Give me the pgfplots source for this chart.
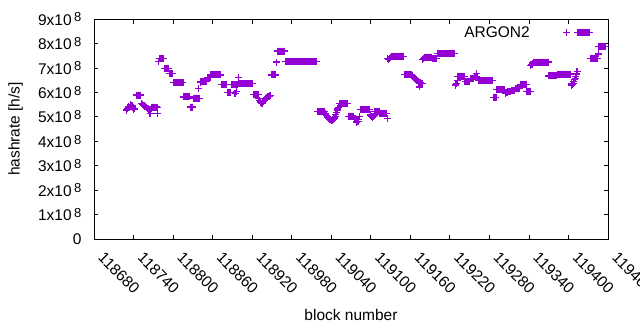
\documentclass[border=0pt]{standalone}
\usepackage{fontspec}
\setmainfont{Liberation Sans}
\usepackage{pgfplots}
\pgfplotsset{compat=1.18}
\definecolor{gpviolet}{RGB}{148,0,211}
\newcommand\fs{\fontsize{15.5}{18}\selectfont}
\newcommand\ylab[1]{#1x10\kern2.5pt\raisebox{3.3pt}{\fontsize{13}{13}\selectfont 8}}
\pgfplotsset{myleg/.style={legend image code/.code={\path (0pt,-3pt) (38pt,3pt); \draw[##1] plot coordinates {(34pt,0pt)};}}}
\begin{document}
\begin{tikzpicture}
\begin{axis}[
  at={(0,0)}, anchor=south west,
  scale only axis, width=514pt, height=220pt,
  xmin=118680, xmax=119460, ymin=0, ymax=9e8,
  clip=false,
  scaled x ticks=false, scaled y ticks=false,
  xtick={118680,118740,118800,118860,118920,118980,119040,119100,119160,119220,119280,119340,119400,119460},
  xticklabels={118680,118740,118800,118860,118920,118980,119040,119100,119160,119220,119280,119340,119400,119460},
  ytick={0,1e8,2e8,3e8,4e8,5e8,6e8,7e8,8e8,9e8},
  yticklabels={0,\ylab1,\ylab2,\ylab3,\ylab4,\ylab5,\ylab6,\ylab7,\ylab8,\ylab9},
  tick align=inside, major tick length=4.5pt,
  tick style={black, line width=0.8pt},
  axis line style={black, line width=0.8pt},
  tick label style={font=\fs},
  xticklabel style={xshift=11pt, yshift=-12pt, rotate=-45, anchor=north west, inner sep=0pt},
  yticklabel style={xshift=-9pt},
  every axis y label/.style={at={(axis description cs:0,0.5)}, xshift=-78.5pt, rotate=90, anchor=center, font=\fs},
  every axis x label/.style={at={(axis description cs:0.5,0)}, yshift=-76pt, anchor=center, font=\fs},
  xlabel={block number},
  ylabel={hashrate [h/s]},
  legend style={draw=none, fill=none, font=\fs, at={(axis description cs:0.932,0.985)}, anchor=north east, inner sep=2pt},
  legend plot pos=right,
  legend cell align=right,
]
\addplot[only marks, mark=+, color=gpviolet, mark size=3.5pt, line width=1.1pt, myleg]
 table[row sep=\\] {
x y\\
118729 5.25e8\\ 118730 5.28e8\\ 118731 5.32e8\\ 118732 5.36e8\\ 118733 5.42e8\\ 118734 5.38e8\\ 118735 5.45e8\\ 118736 5.50e8\\
118737 5.48e8\\ 118738 5.45e8\\ 118739 5.40e8\\ 118740 5.28e8\\ 118741 5.32e8\\ 118742 5.35e8\\
118744 5.89e8\\ 118745 5.89e8\\ 118746 5.89e8\\ 118747 5.89e8\\ 118748 5.89e8\\ 118749 5.89e8\\ 118750 5.89e8\\ 118751 5.89e8\\
118752 5.55e8\\ 118753 5.52e8\\ 118754 5.50e8\\ 118755 5.48e8\\ 118756 5.45e8\\ 118757 5.44e8\\ 118758 5.42e8\\ 118759 5.40e8\\
118760 5.38e8\\ 118761 5.35e8\\ 118762 5.33e8\\ 118763 5.30e8\\ 118764 5.28e8\\ 118765 5.15e8\\ 118766 5.30e8\\ 118767 5.35e8\\
118768 5.40e8\\ 118769 5.40e8\\ 118770 5.40e8\\ 118771 5.40e8\\ 118772 5.40e8\\ 118773 5.40e8\\ 118774 5.40e8\\ 118775 5.40e8\\
118776 5.38e8\\ 118777 5.14e8\\ 118778 7.28e8\\
118779 7.39e8\\ 118780 7.39e8\\ 118781 7.39e8\\ 118782 7.39e8\\ 118783 7.39e8\\ 118784 7.39e8\\ 118785 7.39e8\\ 118786 7.39e8\\
118787 6.98e8\\ 118788 6.98e8\\ 118789 6.98e8\\ 118790 6.98e8\\ 118791 6.98e8\\ 118792 6.98e8\\ 118793 6.98e8\\
118794 6.77e8\\ 118795 6.77e8\\ 118796 6.77e8\\ 118797 6.77e8\\ 118798 6.77e8\\ 118799 6.77e8\\
118800 6.40e8\\ 118801 6.40e8\\ 118802 6.40e8\\ 118803 6.40e8\\ 118804 6.40e8\\ 118805 6.40e8\\ 118806 6.40e8\\ 118807 6.40e8\\
118808 6.40e8\\ 118809 6.40e8\\ 118810 6.40e8\\ 118811 6.40e8\\ 118812 6.40e8\\ 118813 6.40e8\\ 118814 6.40e8\\ 118815 6.40e8\\
118816 5.81e8\\ 118817 5.81e8\\ 118818 5.81e8\\ 118819 5.81e8\\ 118820 5.81e8\\ 118821 5.81e8\\ 118822 5.81e8\\ 118823 5.81e8\\
118824 5.81e8\\ 118825 5.81e8\\
118826 5.40e8\\ 118827 5.40e8\\ 118828 5.40e8\\ 118829 5.40e8\\ 118830 5.40e8\\
118831 5.75e8\\ 118832 5.75e8\\ 118833 5.75e8\\ 118834 5.75e8\\ 118835 5.75e8\\ 118836 5.75e8\\ 118837 5.75e8\\ 118838 5.75e8\\
118839 6.17e8\\ 118840 5.75e8\\ 118841 6.40e8\\
118842 6.44e8\\ 118843 6.44e8\\ 118844 6.44e8\\ 118845 6.44e8\\ 118846 6.44e8\\ 118847 6.44e8\\ 118848 6.44e8\\ 118849 6.44e8\\
118850 6.44e8\\ 118851 6.44e8\\
118852 6.61e8\\ 118853 6.61e8\\ 118854 6.61e8\\ 118855 6.61e8\\ 118856 6.61e8\\
118857 6.71e8\\ 118858 6.71e8\\ 118859 6.71e8\\ 118860 6.71e8\\ 118861 6.71e8\\ 118862 6.71e8\\ 118863 6.71e8\\ 118864 6.71e8\\
118865 6.71e8\\ 118866 6.71e8\\ 118867 6.71e8\\ 118868 6.71e8\\ 118869 6.71e8\\ 118870 6.71e8\\ 118871 6.71e8\\ 118872 6.71e8\\
118873 6.32e8\\ 118874 6.32e8\\ 118875 6.32e8\\ 118876 6.32e8\\ 118877 6.32e8\\ 118878 6.32e8\\ 118879 6.32e8\\ 118880 6.32e8\\
118881 6.32e8\\
118882 5.99e8\\ 118883 5.99e8\\ 118884 5.99e8\\ 118885 5.99e8\\ 118886 5.99e8\\ 118887 5.99e8\\
118888 6.32e8\\ 118889 6.32e8\\ 118890 6.32e8\\ 118891 6.32e8\\ 118892 6.32e8\\ 118893 6.32e8\\ 118894 5.96e8\\ 118895 6.32e8\\
118896 6.05e8\\ 118897 6.32e8\\ 118899 6.59e8\\
118900 6.36e8\\ 118901 6.36e8\\ 118902 6.36e8\\ 118903 6.36e8\\ 118904 6.36e8\\ 118905 6.36e8\\ 118906 6.36e8\\ 118907 6.36e8\\
118908 6.36e8\\ 118909 6.36e8\\ 118910 6.36e8\\ 118911 6.36e8\\ 118912 6.36e8\\ 118913 6.36e8\\ 118914 6.36e8\\ 118915 6.36e8\\
118916 6.36e8\\ 118917 6.36e8\\ 118918 6.36e8\\ 118919 6.36e8\\ 118920 6.36e8\\ 118921 6.36e8\\
118922 5.93e8\\ 118923 5.93e8\\ 118924 5.93e8\\ 118925 5.93e8\\ 118926 5.93e8\\ 118927 5.93e8\\ 118928 5.93e8\\ 118929 5.93e8\\
118930 5.75e8\\ 118931 5.68e8\\ 118932 5.62e8\\ 118933 5.58e8\\ 118934 5.55e8\\ 118935 5.56e8\\ 118936 5.58e8\\ 118937 5.62e8\\
118938 5.65e8\\ 118939 5.68e8\\ 118940 5.72e8\\ 118941 5.75e8\\ 118942 5.78e8\\ 118943 5.80e8\\ 118944 5.82e8\\ 118945 5.84e8\\
118946 5.85e8\\ 118947 5.86e8\\ 118948 5.87e8\\
118949 6.71e8\\ 118950 6.71e8\\ 118951 6.71e8\\ 118952 6.71e8\\ 118953 6.71e8\\ 118954 6.71e8\\ 118955 6.71e8\\ 118956 6.71e8\\
118957 7.24e8\\
118958 7.69e8\\ 118959 7.69e8\\ 118960 7.69e8\\ 118961 7.69e8\\ 118962 7.69e8\\ 118963 7.69e8\\ 118964 7.69e8\\ 118965 7.69e8\\
118966 7.69e8\\ 118967 7.69e8\\ 118968 7.69e8\\ 118969 7.69e8\\
118970 7.26e8\\ 118971 7.26e8\\ 118972 7.26e8\\ 118973 7.26e8\\ 118974 7.26e8\\ 118975 7.26e8\\ 118976 7.26e8\\ 118977 7.26e8\\
118978 7.26e8\\ 118979 7.26e8\\ 118980 7.26e8\\ 118981 7.26e8\\ 118982 7.26e8\\ 118983 7.26e8\\ 118984 7.26e8\\ 118985 7.26e8\\
118986 7.26e8\\ 118987 7.26e8\\ 118988 7.26e8\\ 118989 7.26e8\\ 118990 7.26e8\\ 118991 7.26e8\\ 118992 7.26e8\\ 118993 7.26e8\\
118994 7.26e8\\ 118995 7.26e8\\ 118996 7.26e8\\ 118997 7.26e8\\ 118998 7.26e8\\ 118999 7.26e8\\ 119000 7.26e8\\ 119001 7.26e8\\
119002 7.26e8\\ 119003 7.26e8\\ 119004 7.26e8\\ 119005 7.26e8\\ 119006 7.26e8\\ 119007 7.26e8\\ 119008 7.26e8\\ 119009 7.26e8\\
119010 7.26e8\\ 119011 7.26e8\\ 119012 7.26e8\\ 119013 7.26e8\\ 119014 7.26e8\\ 119015 7.26e8\\ 119016 7.26e8\\ 119017 7.26e8\\
119018 7.26e8\\
119019 5.22e8\\ 119020 5.22e8\\ 119021 5.22e8\\ 119022 5.22e8\\ 119023 5.22e8\\ 119024 5.22e8\\ 119025 5.22e8\\ 119026 5.22e8\\
119027 5.22e8\\ 119028 5.22e8\\ 119029 5.22e8\\ 119030 5.22e8\\
119031 5.12e8\\ 119032 5.08e8\\ 119033 5.05e8\\ 119034 5.02e8\\ 119035 4.98e8\\ 119036 4.95e8\\ 119037 4.92e8\\ 119038 4.90e8\\
119039 4.88e8\\ 119040 4.86e8\\ 119041 4.85e8\\ 119042 4.86e8\\ 119043 4.88e8\\ 119044 4.92e8\\ 119045 4.95e8\\ 119046 5.02e8\\
119047 5.10e8\\ 119048 5.18e8\\ 119049 5.25e8\\ 119050 5.32e8\\ 119051 5.38e8\\
119052 5.54e8\\ 119053 5.54e8\\ 119054 5.54e8\\ 119055 5.54e8\\ 119056 5.54e8\\ 119057 5.54e8\\ 119058 5.54e8\\ 119059 5.54e8\\
119060 5.54e8\\ 119061 5.54e8\\ 119062 5.54e8\\ 119063 5.54e8\\ 119064 5.54e8\\ 119065 5.54e8\\
119066 5.03e8\\ 119067 5.03e8\\ 119068 5.03e8\\ 119069 5.03e8\\ 119070 5.03e8\\ 119071 5.03e8\\ 119072 5.03e8\\ 119073 5.03e8\\
119074 5.03e8\\
119075 4.95e8\\ 119076 4.92e8\\ 119077 4.88e8\\ 119078 4.82e8\\ 119079 4.76e8\\ 119080 4.79e8\\ 119081 4.82e8\\ 119082 4.90e8\\
119083 5.03e8\\
119084 5.28e8\\ 119085 5.28e8\\ 119086 5.28e8\\ 119087 5.28e8\\ 119088 5.28e8\\ 119089 5.28e8\\ 119090 5.28e8\\ 119091 5.28e8\\
119092 5.28e8\\ 119093 5.28e8\\ 119094 5.28e8\\ 119095 5.28e8\\ 119096 5.28e8\\ 119097 5.28e8\\ 119098 5.28e8\\
119099 5.10e8\\ 119100 5.06e8\\ 119101 5.02e8\\ 119102 5.00e8\\ 119103 4.98e8\\ 119104 5.02e8\\ 119105 5.05e8\\
119106 5.22e8\\ 119107 5.22e8\\ 119108 5.22e8\\ 119109 5.22e8\\ 119110 5.22e8\\ 119111 5.22e8\\ 119112 5.22e8\\ 119113 5.22e8\\
119114 5.14e8\\ 119115 5.14e8\\ 119116 5.14e8\\ 119117 5.14e8\\ 119118 5.14e8\\ 119119 5.14e8\\ 119120 5.14e8\\ 119121 5.14e8\\
119122 5.14e8\\ 119123 5.14e8\\ 119124 5.14e8\\
119125 4.94e8\\ 119126 7.39e8\\
119127 7.35e8\\ 119128 7.38e8\\ 119129 7.40e8\\ 119130 7.42e8\\ 119131 7.45e8\\
119132 7.48e8\\ 119133 7.48e8\\ 119134 7.48e8\\ 119135 7.48e8\\ 119136 7.48e8\\ 119137 7.48e8\\ 119138 7.48e8\\ 119139 7.48e8\\
119140 7.48e8\\ 119141 7.48e8\\ 119142 7.48e8\\ 119143 7.48e8\\ 119144 7.48e8\\ 119145 7.48e8\\ 119146 7.48e8\\ 119147 7.48e8\\
119148 7.48e8\\ 119149 7.48e8\\ 119150 7.48e8\\
119151 6.72e8\\ 119152 6.72e8\\ 119153 6.72e8\\ 119154 6.72e8\\ 119155 6.72e8\\ 119156 6.72e8\\ 119157 6.72e8\\ 119158 6.72e8\\
119159 6.72e8\\ 119160 6.72e8\\ 119161 6.72e8\\ 119162 6.72e8\\
119163 6.68e8\\ 119164 6.65e8\\ 119165 6.62e8\\ 119166 6.60e8\\ 119167 6.58e8\\ 119168 6.55e8\\ 119169 6.52e8\\ 119170 6.50e8\\
119171 6.48e8\\ 119172 6.45e8\\ 119173 6.42e8\\ 119174 6.22e8\\ 119175 6.41e8\\ 119176 6.40e8\\ 119177 6.38e8\\ 119178 6.36e8\\
119179 7.36e8\\ 119180 7.40e8\\
119181 7.44e8\\ 119182 7.44e8\\ 119183 7.44e8\\ 119184 7.44e8\\ 119185 7.44e8\\ 119186 7.44e8\\ 119187 7.44e8\\ 119188 7.44e8\\
119189 7.44e8\\ 119190 7.44e8\\ 119191 7.44e8\\ 119192 7.44e8\\
119193 7.37e8\\ 119194 7.37e8\\ 119195 7.37e8\\ 119196 7.37e8\\ 119197 7.37e8\\ 119198 7.37e8\\ 119199 7.37e8\\ 119200 7.37e8\\
119201 7.58e8\\ 119202 7.58e8\\ 119203 7.58e8\\ 119204 7.58e8\\ 119205 7.58e8\\ 119206 7.58e8\\ 119207 7.58e8\\ 119208 7.58e8\\
119209 7.58e8\\ 119210 7.58e8\\ 119211 7.58e8\\ 119212 7.58e8\\ 119213 7.58e8\\ 119214 7.58e8\\ 119215 7.58e8\\ 119216 7.58e8\\
119217 7.58e8\\ 119218 7.58e8\\ 119219 7.58e8\\ 119220 7.58e8\\ 119221 7.58e8\\ 119222 7.58e8\\ 119223 7.58e8\\ 119224 7.58e8\\
119225 7.58e8\\ 119226 7.58e8\\ 119227 7.58e8\\
119228 6.27e8\\ 119229 6.31e8\\ 119230 6.35e8\\ 119231 6.50e8\\
119232 6.65e8\\ 119233 6.65e8\\ 119234 6.65e8\\ 119235 6.65e8\\ 119236 6.65e8\\ 119237 6.65e8\\ 119238 6.65e8\\ 119239 6.65e8\\
119240 6.65e8\\ 119241 6.65e8\\ 119242 6.65e8\\
119243 6.45e8\\ 119244 6.45e8\\ 119245 6.45e8\\ 119246 6.45e8\\ 119247 6.45e8\\ 119248 6.45e8\\ 119249 6.45e8\\ 119250 6.45e8\\
119251 6.55e8\\ 119252 6.55e8\\ 119253 6.55e8\\ 119254 6.55e8\\ 119255 6.55e8\\ 119256 6.55e8\\
119257 6.66e8\\ 119258 6.66e8\\ 119259 6.66e8\\ 119260 6.66e8\\ 119261 6.76e8\\ 119262 6.60e8\\
119263 6.48e8\\ 119264 6.48e8\\ 119265 6.48e8\\ 119266 6.48e8\\ 119267 6.48e8\\ 119268 6.48e8\\ 119269 6.48e8\\ 119270 6.48e8\\
119271 6.48e8\\ 119272 6.48e8\\ 119273 6.48e8\\ 119274 6.48e8\\ 119275 6.48e8\\ 119276 6.48e8\\ 119277 6.48e8\\ 119278 6.48e8\\
119279 6.48e8\\ 119280 6.48e8\\ 119281 6.48e8\\ 119282 6.48e8\\ 119283 6.48e8\\ 119284 6.48e8\\ 119285 6.48e8\\
119286 5.80e8\\ 119287 5.80e8\\ 119288 5.80e8\\ 119289 5.80e8\\ 119290 5.80e8\\
119291 6.10e8\\ 119292 6.10e8\\ 119293 6.10e8\\ 119294 6.10e8\\ 119295 6.10e8\\ 119296 6.10e8\\ 119297 6.10e8\\ 119298 6.10e8\\
119299 6.10e8\\ 119300 6.10e8\\ 119301 6.10e8\\ 119302 6.10e8\\ 119303 6.10e8\\
119304 5.95e8\\ 119305 5.96e8\\ 119306 5.98e8\\ 119307 6.00e8\\
119308 6.02e8\\ 119309 6.02e8\\ 119310 6.02e8\\ 119311 6.02e8\\ 119312 6.02e8\\
119313 6.08e8\\ 119314 6.08e8\\ 119315 6.08e8\\ 119316 6.08e8\\ 119317 6.08e8\\ 119318 6.08e8\\
119319 6.16e8\\ 119320 6.16e8\\ 119321 6.16e8\\ 119322 6.16e8\\ 119323 6.16e8\\ 119324 6.16e8\\ 119325 6.16e8\\ 119326 6.16e8\\
119327 6.33e8\\ 119328 6.33e8\\ 119329 6.33e8\\ 119330 6.33e8\\ 119331 6.33e8\\ 119332 6.33e8\\ 119333 6.33e8\\ 119334 6.33e8\\
119335 6.33e8\\ 119336 6.33e8\\
119337 6.05e8\\ 119338 6.05e8\\ 119339 6.05e8\\ 119340 6.05e8\\ 119341 6.05e8\\ 119342 6.05e8\\
119343 7.08e8\\ 119344 7.12e8\\ 119345 7.15e8\\ 119346 7.20e8\\
119347 7.24e8\\ 119348 7.24e8\\ 119349 7.24e8\\ 119350 7.24e8\\ 119351 7.24e8\\ 119352 7.24e8\\ 119353 7.24e8\\ 119354 7.24e8\\
119355 7.24e8\\ 119356 7.24e8\\ 119357 7.24e8\\ 119358 7.24e8\\ 119359 7.24e8\\ 119360 7.24e8\\ 119361 7.24e8\\ 119362 7.24e8\\
119363 7.24e8\\ 119364 7.24e8\\ 119365 7.24e8\\ 119366 7.24e8\\ 119367 7.24e8\\ 119368 7.24e8\\ 119369 7.24e8\\
119370 6.67e8\\ 119371 6.67e8\\ 119372 6.67e8\\ 119373 6.67e8\\ 119374 6.67e8\\ 119375 6.67e8\\ 119376 6.67e8\\ 119377 6.67e8\\
119378 6.67e8\\ 119379 6.67e8\\ 119380 6.67e8\\ 119381 6.67e8\\ 119382 6.67e8\\
119383 6.75e8\\ 119384 6.75e8\\ 119385 6.75e8\\ 119386 6.75e8\\ 119387 6.75e8\\ 119388 6.75e8\\ 119389 6.75e8\\ 119390 6.75e8\\
119391 6.75e8\\ 119392 6.75e8\\ 119393 6.75e8\\ 119394 6.75e8\\ 119395 6.75e8\\ 119396 6.75e8\\ 119397 6.75e8\\ 119398 6.75e8\\
119399 6.75e8\\ 119400 6.75e8\\ 119401 6.75e8\\ 119402 6.75e8\\ 119403 6.75e8\\
119404 6.38e8\\ 119405 6.30e8\\ 119406 6.32e8\\ 119407 6.35e8\\ 119408 6.45e8\\ 119409 6.52e8\\ 119410 6.58e8\\ 119411 6.64e8\\
119412 6.75e8\\ 119413 6.85e8\\
119414 8.43e8\\ 119415 8.43e8\\ 119416 8.43e8\\ 119417 8.43e8\\ 119418 8.43e8\\ 119419 8.43e8\\ 119420 8.43e8\\ 119421 8.43e8\\
119422 8.43e8\\ 119423 8.43e8\\ 119424 8.43e8\\ 119425 8.43e8\\ 119426 8.43e8\\ 119427 8.43e8\\ 119428 8.43e8\\ 119429 8.43e8\\
119430 8.43e8\\ 119431 8.43e8\\ 119432 8.43e8\\
119433 7.40e8\\ 119434 7.40e8\\ 119435 7.40e8\\ 119436 7.40e8\\ 119437 7.40e8\\ 119438 7.40e8\\ 119439 7.40e8\\ 119440 7.40e8\\
119441 7.40e8\\ 119442 7.40e8\\ 119443 7.40e8\\ 119444 7.40e8\\ 119445 7.57e8\\
119446 7.88e8\\ 119447 7.88e8\\ 119448 7.88e8\\ 119449 7.88e8\\ 119450 7.88e8\\ 119451 7.88e8\\ 119452 7.88e8\\ 119453 7.88e8\\
119454 7.88e8\\ 119455 7.88e8\\ 119456 7.88e8\\
};
\addlegendentry{ARGON2}
\end{axis}
\pgfresetboundingbox
\path[use as bounding box] (-94pt,-91pt) rectangle (546pt,239pt);
\end{tikzpicture}
\end{document}
